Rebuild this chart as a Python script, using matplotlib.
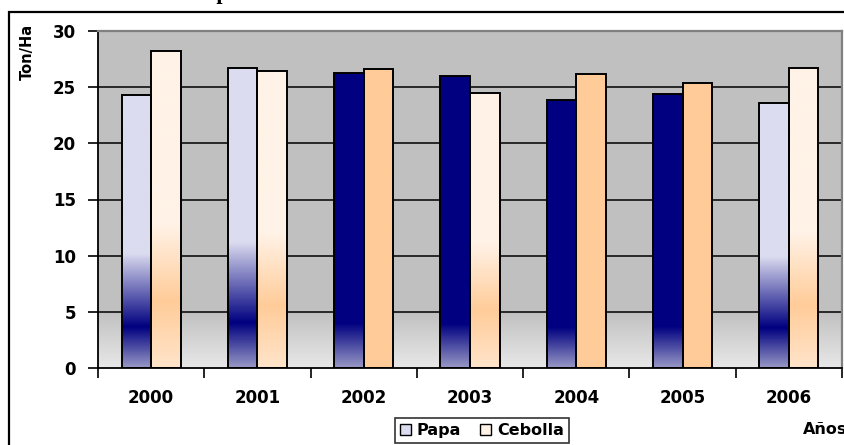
import numpy as np
import matplotlib
matplotlib.use("Agg")
import matplotlib.pyplot as plt
from matplotlib.colors import LinearSegmentedColormap
from matplotlib.patches import Patch, Rectangle

# Yields (Ton/Ha) per year
years = ["2000", "2001", "2002", "2003", "2004", "2005", "2006"]
papa = [24.3, 26.7, 26.3, 26.0, 23.9, 24.4, 23.6]
cebolla = [28.2, 26.4, 26.6, 24.5, 26.15, 25.4, 26.7]
y_ticks = [0, 5, 10, 15, 20, 25, 30]

# fill style of each bar
papa_fill = ["fade", "fade", "solid", "solid", "solid", "solid", "fade"]
cebolla_fill = ["fade", "fade", "solid", "fade", "solid", "solid", "fade"]

W, H, DPI = 845, 445, 100
plt.rcParams["font.family"] = ["DejaVu Sans"]
plt.rcParams["font.weight"] = "bold"

fig = plt.figure(figsize=(W / DPI, H / DPI), dpi=DPI)
fig.patch.set_facecolor("white")


def px(x, y):
    return x / W, 1 - y / H


L, R, T, B = 98, 842, 31, 368
ax = fig.add_axes([L / W, 1 - B / H, (R - L) / W, (B - T) / H])
ax.set_facecolor("#C0C0C0")

n = len(years)
xs = np.arange(n)
bw = 0.278

cmaps = {
    ("papa", "fade"): LinearSegmentedColormap.from_list(
        "pf", [(0, "#9898C6"), (0.15, "#000080"), (0.42, "#DCDCF0"), (1, "#DCDCF0")]),
    ("papa", "solid"): LinearSegmentedColormap.from_list(
        "ps", [(0, "#9898C6"), (0.15, "#000080"), (1, "#000080")]),
    ("cebolla", "fade"): LinearSegmentedColormap.from_list(
        "cf", [(0, "#FFE4CA"), (0.21, "#FFCC99"), (0.45, "#FFF2E6"), (1, "#FFF2E6")]),
    ("cebolla", "solid"): LinearSegmentedColormap.from_list(
        "cs", [(0, "#FFCC99"), (1, "#FFCC99")]),
}

grad = np.linspace(0, 1, 256).reshape(-1, 1)

# background: light band at the bottom of the plot area
bg = LinearSegmentedColormap.from_list("bg", ["#E8E8E8", "#C0C0C0"])
ax.imshow(grad, cmap=bg, origin="lower", aspect="auto",
          extent=[-0.5, n - 0.5, 0, 5], zorder=0.5)

for v in y_ticks[1:-1]:
    ax.axhline(v, color="black", lw=1.1, zorder=1)


def draw_series(vals, fills, offset, name):
    bars = ax.bar(xs + offset, vals, width=bw, facecolor="none",
                  edgecolor="black", linewidth=1.4, zorder=3)
    for rect, f in zip(bars, fills):
        x0 = rect.get_x()
        h = rect.get_height()
        im = ax.imshow(grad, cmap=cmaps[(name, f)], origin="lower",
                       aspect="auto", extent=[x0, x0 + bw, 0, h], zorder=2.5)
        im.set_clip_path(rect)


draw_series(papa, papa_fill, -bw / 2, "papa")
draw_series(cebolla, cebolla_fill, bw / 2, "cebolla")

ax.set_xlim(-0.5, n - 0.5)
ax.set_ylim(0, 30)

ax.set_yticks(y_ticks)
ax.set_xticks(xs)
ax.set_xticklabels(years)
ax.set_xticks(np.arange(n + 1) - 0.5, minor=True)
ax.tick_params(axis="x", which="major", length=0, pad=15, labelsize=12)
ax.tick_params(axis="x", which="minor", length=7, width=1.2, direction="out")
ax.tick_params(axis="y", length=7, width=1.2, direction="out", pad=9,
               labelsize=12)
for lab in ax.get_xticklabels() + ax.get_yticklabels():
    lab.set_fontweight("bold")

for s in ("left", "bottom"):
    ax.spines[s].set_color("black")
    ax.spines[s].set_linewidth(1.3)
for s in ("top", "right"):
    ax.spines[s].set_color("#808080")
    ax.spines[s].set_linewidth(1.6)
ax.spines["bottom"].set_zorder(4)

# chart frame
fig.add_artist(Rectangle(px(9, 460), (860 - 9) / W, (460 - 12) / H,
                         transform=fig.transFigure, fill=False,
                         edgecolor="black", linewidth=1.6))

# title (top of the chart)
fig.text(88 / W, 1 + 1.5 / H, "Rendimiento promedio", fontsize=16,
         family=["Liberation Serif", "DejaVu Serif"], fontweight="bold",
         ha="left", va="baseline")

fig.text(*px(27, 52), "Ton/Ha", rotation=90, fontsize=10.5, fontweight="bold",
         ha="center", va="center")
fig.text(*px(803, 429), "Años", fontsize=11.5, fontweight="bold",
         ha="left", va="center")

handles = [Patch(facecolor="#DCDCF0", edgecolor="black", linewidth=1.0),
           Patch(facecolor="#FFF2E6", edgecolor="black", linewidth=1.0)]
leg = fig.legend(handles, ["Papa", "Cebolla"], loc="upper left",
                 bbox_to_anchor=px(395, 418), ncol=2, frameon=True,
                 fancybox=False, handlelength=0.7, handleheight=0.7,
                 handletextpad=0.35, columnspacing=1.2, borderpad=0.3,
                 prop={"weight": "bold", "size": 11.5}, borderaxespad=0)
leg.get_frame().set_edgecolor("black")
leg.get_frame().set_linewidth(1.2)

fig.savefig("out.png", dpi=DPI)
